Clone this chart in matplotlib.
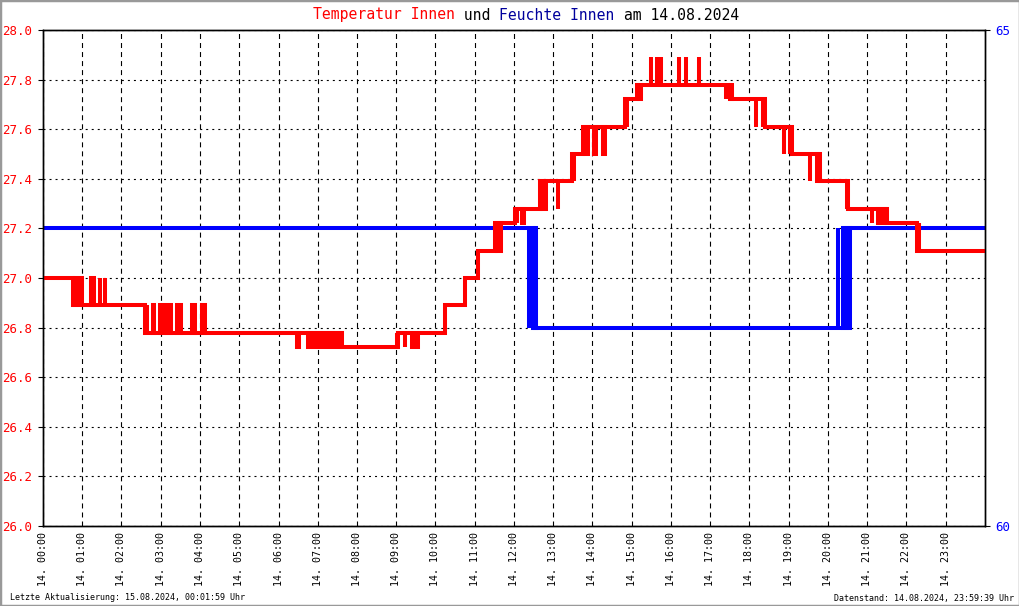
import matplotlib
matplotlib.use("Agg")
import matplotlib.pyplot as plt
from matplotlib.patches import Rectangle

plt.rcParams["font.family"] = "DejaVu Sans Mono"
plt.rcParams["lines.scale_dashes"] = False

# temperature (left axis), step values, time in minutes of the day
temp_t = [0, 46, 156, 457, 543, 614, 645, 665, 691, 721, 760, 809, 825, 890, 908,
          1050, 1104, 1145, 1188, 1230, 1290, 1336, 1440]
temp_v = [27.00, 26.89, 26.78, 26.72, 26.78, 26.89, 27.00, 27.11, 27.22, 27.28, 27.39,
          27.50, 27.61, 27.72, 27.78, 27.72, 27.61, 27.50, 27.39, 27.28, 27.22, 27.11, 27.11]

# flicker regions of the temperature line (visible start, end, low, high)
tflick_start = [46, 70, 85, 92, 156, 165, 176, 202, 225, 240, 385, 402, 412, 538, 550, 561,
                691, 721, 729, 760, 786, 809, 825, 839, 853, 890, 908, 926, 936, 943, 969, 980,
                1001, 1042, 1048, 1088, 1097, 1131, 1140, 1169, 1180, 1226, 1264, 1274, 1336]
tflick_end = [62, 81, 90, 97, 161, 173, 199, 214, 235, 251, 394, 411, 457, 543, 557, 576,
              703, 727, 738, 772, 789, 813, 836, 848, 862, 896, 917, 933, 940, 946, 974, 986,
              1004, 1046, 1056, 1093, 1104, 1136, 1145, 1176, 1188, 1231, 1270, 1290, 1342]
tflick_lo = [26.89, 26.89, 26.89, 26.89, 26.78, 26.78, 26.78, 26.78, 26.78, 26.78, 26.72,
             26.72, 26.72, 26.72, 26.72, 26.72, 27.11, 27.22, 27.22, 27.28, 27.28, 27.39,
             27.50, 27.50, 27.50, 27.61, 27.72, 27.78, 27.78, 27.78, 27.78, 27.78, 27.78,
             27.72, 27.72, 27.61, 27.61, 27.50, 27.50, 27.39, 27.39, 27.28, 27.22, 27.22, 27.11]
tflick_hi = [27.00, 27.00, 27.00, 27.00, 26.89, 26.89, 26.89, 26.89, 26.89, 26.89, 26.78,
             26.78, 26.78, 26.78, 26.78, 26.78, 27.22, 27.28, 27.28, 27.39, 27.39, 27.50,
             27.61, 27.61, 27.61, 27.72, 27.78, 27.89, 27.89, 27.89, 27.89, 27.89, 27.89,
             27.78, 27.78, 27.72, 27.72, 27.61, 27.61, 27.50, 27.50, 27.39, 27.28, 27.28, 27.22]

# humidity (right axis)
hum_t = [0, 749, 1229, 1440]
hum_v = [63, 62, 63, 63]
hflick_start = [740, 749, 1212, 1220]
hflick_end = [746, 757, 1218, 1237]
hflick_lo = [62, 62, 62, 62]
hflick_hi = [63, 63, 63, 63]

hours = list(range(24))
xlabels = [f"14. {h:02d}:00" for h in hours]
temp_ticks = [26.0, 26.2, 26.4, 26.6, 26.8, 27.0, 27.2, 27.4, 27.6, 27.8, 28.0]

RED = "#ff0000"
BLUE = "#0000ff"
NAVY = "#00009c"
LW = 2.9
EDGE_MIN = 3.0  # half line width expressed in minutes


def blocks(starts, ends):
    # shrink the visible extent by the half line width drawn by the bar edge
    xs, ws = [], []
    for s, e in zip(starts, ends):
        a, b = s + EDGE_MIN, e - EDGE_MIN
        if b <= a:
            a = b = (s + e) / 2
        xs.append(a)
        ws.append(b - a)
    return xs, ws


W, H = 1020, 606
fig = plt.figure(figsize=(W / 100, H / 100), dpi=100)
ax = fig.add_axes([43 / W, 80 / H, 942 / W, 496 / H])
ax2 = ax.twinx()

ax.set_xlim(0, 1440)
ax.set_ylim(26, 28)
ax2.set_ylim(60, 65)

# grid
ax.set_axisbelow(True)
ax.set_xticks([h * 60 for h in hours])
ax.set_xticklabels(xlabels)
ax.set_yticks(temp_ticks)
ax.set_yticklabels([f"{v:.1f}" for v in temp_ticks])
ax.grid(True, axis="x", color="black", linewidth=0.8, linestyle=(0, (3.6, 2.9)))
ax.grid(True, axis="y", color="black", linewidth=0.8, linestyle=(0, (1.44, 2.9)))

# humidity drawn in ax so the temperature line sits on top
ax.plot(hum_t, hum_v, drawstyle="steps-post", color=BLUE, linewidth=LW,
        transform=ax2.transData, zorder=2, solid_joinstyle="miter")
hx, hw = blocks(hflick_start, hflick_end)
ax.bar(x=hx, height=[h - l for l, h in zip(hflick_lo, hflick_hi)], width=hw,
       bottom=hflick_lo, align="edge", color=BLUE, edgecolor=BLUE, linewidth=LW,
       transform=ax2.transData, zorder=2)

ax.plot(temp_t, temp_v, drawstyle="steps-post", color=RED, linewidth=LW, zorder=3,
        solid_joinstyle="miter")
tx, tw = blocks(tflick_start, tflick_end)
ax.bar(x=tx, height=[h - l for l, h in zip(tflick_lo, tflick_hi)], width=tw,
       bottom=tflick_lo, align="edge", color=RED, edgecolor=RED, linewidth=LW, zorder=3)

ax.set_xlim(0, 1440)
ax.set_ylim(26, 28)

for a in (ax, ax2):
    for s in a.spines.values():
        s.set_linewidth(1.0)
        s.set_color("black")

ax.tick_params(axis="x", length=0, pad=4.5, labelsize=7.2, rotation=90)
ax.tick_params(axis="y", length=3.6, width=0.8, pad=4.3, labelsize=9, labelcolor=RED)
ax2.set_yticks([60, 65])
ax2.set_yticklabels(["60", "65"])
ax2.tick_params(axis="y", length=3.6, width=0.8, pad=3.6, labelsize=9, labelcolor=BLUE)

# title in coloured pieces (monospace font, so place by character count)
title_parts = [("Temperatur Innen", RED), (" und ", "black"),
               ("Feuchte Innen", NAVY), (" am 14.08.2024", "black")]
tsize = 10.6
cw = 0.602 * tsize * 100 / 72
n_all = sum(len(p) for p, _ in title_parts)
x0 = 526 - n_all * cw / 2
for part, col in title_parts:
    fig.text(x0 / W, 1 - 15 / H, part, color=col, fontsize=tsize, ha="left", va="center")
    x0 += len(part) * cw

fig.text(10 / W, 1 - 598 / H, "Letzte Aktualisierung: 15.08.2024, 00:01:59 Uhr",
         fontsize=6, ha="left", va="center")
fig.text(1014 / W, 1 - 598 / H, "Datenstand: 14.08.2024, 23:59:39 Uhr",
         fontsize=6, ha="right", va="center")

fig.patches.append(Rectangle((0, 0), 1, 1, transform=fig.transFigure, fill=False,
                             edgecolor="#999999", linewidth=2.5))

fig.savefig("out.png", dpi=100)
